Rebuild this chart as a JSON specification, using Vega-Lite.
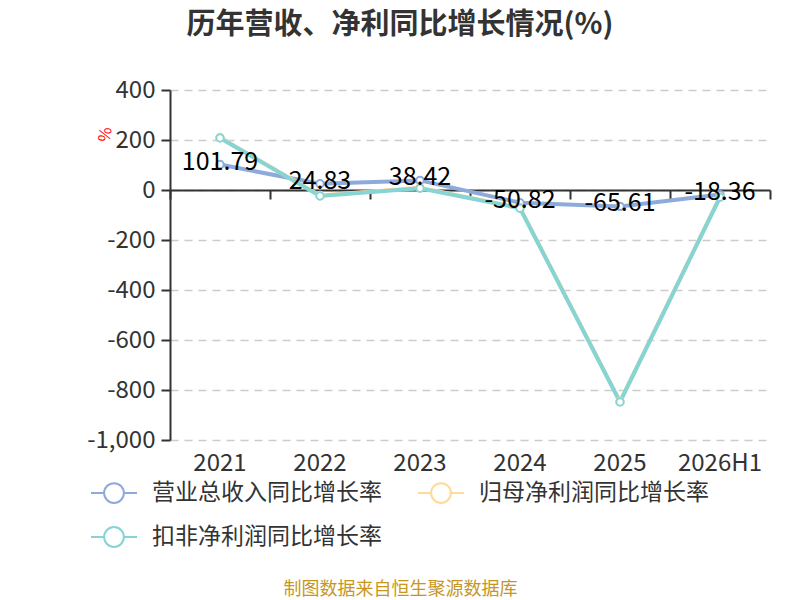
{
  "$schema": "https://vega.github.io/schema/vega-lite/v6.json",
  "width": 600,
  "height": 350,
  "autosize": {"type": "none"},
  "padding": {"left": 170, "top": 90, "right": 30, "bottom": 160},
  "background": "white",
  "title": {
    "text": "历年营收、净利同比增长情况(%)",
    "fontSize": 29,
    "fontWeight": "bold",
    "color": "#333333",
    "font": "Noto Sans CJK SC",
    "anchor": "middle",
    "dx": -70,
    "offset": 38
  },
  "config": {
    "font": "Noto Sans CJK SC",
    "view": {"stroke": null},
    "legend": {
      "orient": "none",
      "legendX": -80,
      "legendY": 379,
      "direction": "horizontal",
      "columns": 2,
      "padding": 0,
      "labelFontSize": 23,
      "labelLimit": 0,
      "labelColor": "#333333",
      "labelFont": "Noto Sans CJK SC",
      "symbolType": "M-1,0H-0.43M0.43,0H1M-0.43,0A0.43,0.43 0 1,1 0.43,0A0.43,0.43 0 1,1 -0.43,0",
      "symbolSize": 2116,
      "symbolStrokeWidth": 2,
      "symbolFillColor": "white",
      "columnPadding": 32,
      "rowPadding": 6,
      "labelOffset": 14
    }
  },
  "data": {
    "values": [
      {"year": "2021", "series": "营业总收入同比增长率", "value": 101.79},
      {"year": "2022", "series": "营业总收入同比增长率", "value": 24.83},
      {"year": "2023", "series": "营业总收入同比增长率", "value": 38.42},
      {"year": "2024", "series": "营业总收入同比增长率", "value": -50.82},
      {"year": "2025", "series": "营业总收入同比增长率", "value": -65.61},
      {"year": "2026H1", "series": "营业总收入同比增长率", "value": -18.36},
      {"year": "2021", "series": "归母净利润同比增长率", "value": 210},
      {"year": "2022", "series": "归母净利润同比增长率", "value": -22},
      {"year": "2023", "series": "归母净利润同比增长率", "value": 9},
      {"year": "2024", "series": "归母净利润同比增长率", "value": -71},
      {"year": "2025", "series": "归母净利润同比增长率", "value": -846},
      {"year": "2026H1", "series": "归母净利润同比增长率", "value": -27},
      {"year": "2021", "series": "扣非净利润同比增长率", "value": 208},
      {"year": "2022", "series": "扣非净利润同比增长率", "value": -24},
      {"year": "2023", "series": "扣非净利润同比增长率", "value": 7},
      {"year": "2024", "series": "扣非净利润同比增长率", "value": -73},
      {"year": "2025", "series": "扣非净利润同比增长率", "value": -848},
      {"year": "2026H1", "series": "扣非净利润同比增长率", "value": -29}
    ]
  },
  "resolve": {"axis": {"x": "independent"}},
  "layer": [
    {
      "mark": {
        "type": "line",
        "strokeWidth": 4,
        "point": {"filled": false, "fill": "white", "size": 55, "strokeWidth": 2}
      },
      "encoding": {
        "x": {
          "field": "year",
          "type": "ordinal",
          "bandPosition": 0.5,
          "scale": {"type": "band", "paddingInner": 0, "paddingOuter": 0},
          "axis": {
            "orient": "bottom",
            "domain": false,
            "ticks": false,
            "grid": false,
            "labelAngle": 0,
            "labelFontSize": 24,
            "labelColor": "#333333",
            "labelPadding": 11,
            "labelBaseline": "top",
            "title": "制图数据来自恒生聚源数据库",
            "titleFontSize": 18,
            "titleFontWeight": "normal",
            "titleColor": "#c8961e",
            "titleX": 230,
            "titleY": 149,
            "titleAlign": "center",
            "titleBaseline": "middle"
          }
        },
        "y": {
          "field": "value",
          "type": "quantitative",
          "scale": {"domain": [-1000, 400], "nice": false, "zero": false},
          "axis": {
            "values": [-1000, -800, -600, -400, -200, 0, 200, 400],
            "labelExpr": "replace(format(datum.value, ','), '\u2212', '-')",
            "labelFontSize": 24,
            "labelColor": "#333333",
            "labelPadding": 6,
            "domainColor": "#333333",
            "domainWidth": 2,
            "tickColor": "#333333",
            "tickWidth": 2,
            "tickSize": 9,
            "gridColor": "#cccccc",
            "gridDash": [8, 6],
            "gridWidth": 1.5,
            "title": "%",
            "titleColor": "red",
            "titleFontSize": 16,
            "titleFontWeight": "normal",
            "titleAngle": -80,
            "titleX": -65,
            "titleY": 44,
            "titleAlign": "center",
            "titleBaseline": "middle"
          }
        },
        "color": {
          "field": "series",
          "type": "nominal",
          "sort": ["营业总收入同比增长率", "归母净利润同比增长率", "扣非净利润同比增长率"],
          "scale": {
            "domain": ["营业总收入同比增长率", "归母净利润同比增长率", "扣非净利润同比增长率"],
            "range": ["#8eaadb", "#ffdb9a", "#86d4d4"]
          },
          "legend": {"title": null}
        }
      }
    },
    {
      "transform": [{"filter": "datum.series === '营业总收入同比增长率'"}],
      "mark": {"type": "text", "fontSize": 25, "color": "#000000", "baseline": "middle", "dy": -3},
      "encoding": {
        "x": {
          "field": "year",
          "type": "ordinal",
          "bandPosition": 0.5,
          "scale": {"type": "band", "paddingInner": 0, "paddingOuter": 0},
          "axis": {
            "orient": "top",
            "offset": -100,
            "labels": false,
            "grid": false,
            "title": null,
            "domain": true,
            "domainColor": "#333333",
            "domainWidth": 2,
            "ticks": true,
            "tickBand": "extent",
            "tickColor": "#333333",
            "tickWidth": 2,
            "tickSize": -9
          }
        },
        "y": {"field": "value", "type": "quantitative"},
        "text": {"field": "value", "type": "nominal"}
      }
    }
  ]
}
